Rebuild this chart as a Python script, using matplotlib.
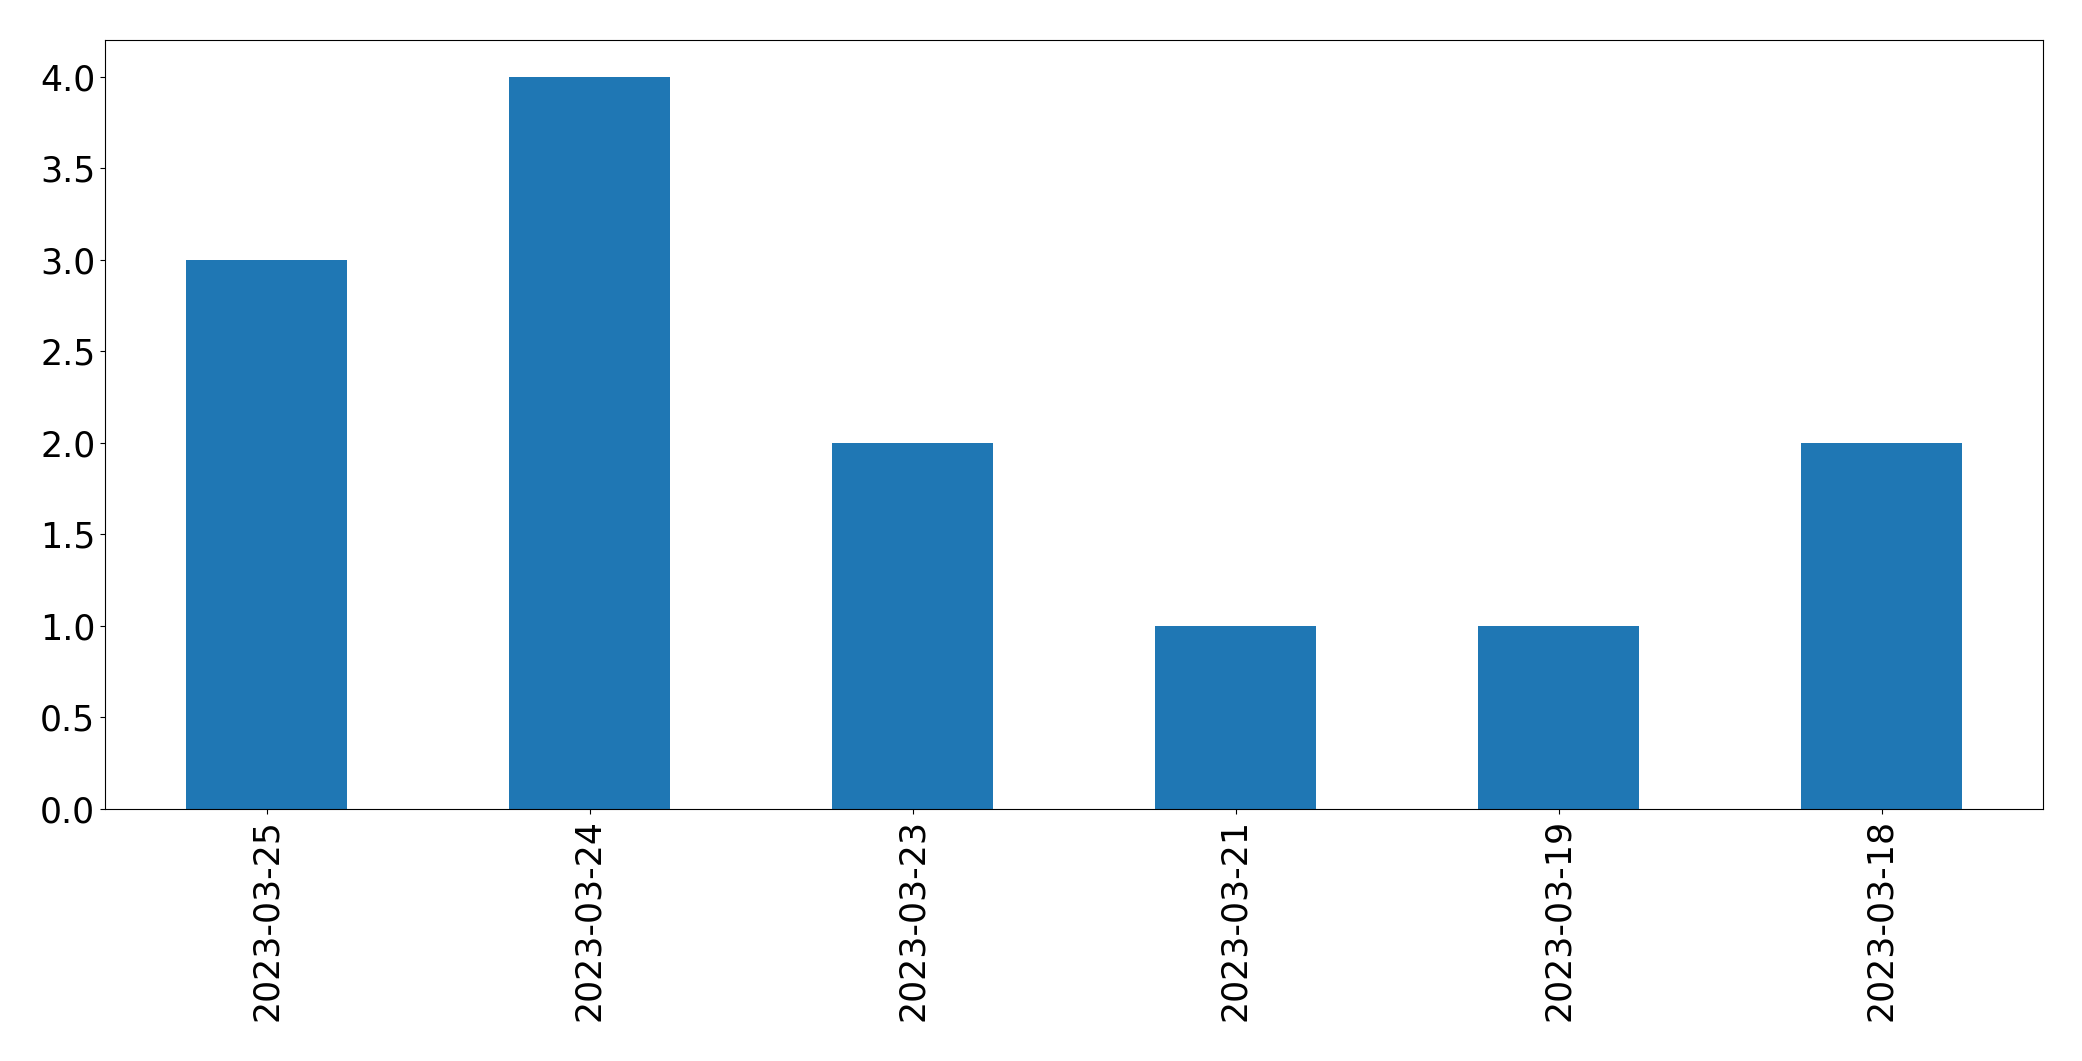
import pandas as pd
import matplotlib.pyplot as plt

dates = ['2023-03-25', '2023-03-24', '2023-03-23', '2023-03-21', '2023-03-19', '2023-03-18']
counts = [3, 4, 2, 1, 1, 2]

W, H = 2082, 1061
fig, ax = plt.subplots(figsize=(W / 100, H / 100), dpi=100)
fig.subplots_adjust(left=105 / W, right=2043 / W, top=1 - 40 / H, bottom=1 - 809 / H)

s = pd.Series(counts, index=dates)
s.plot(kind='bar', ax=ax, fontsize=25, color='#1f77b4')

plt.savefig('out.png', dpi=100)
plt.close()
